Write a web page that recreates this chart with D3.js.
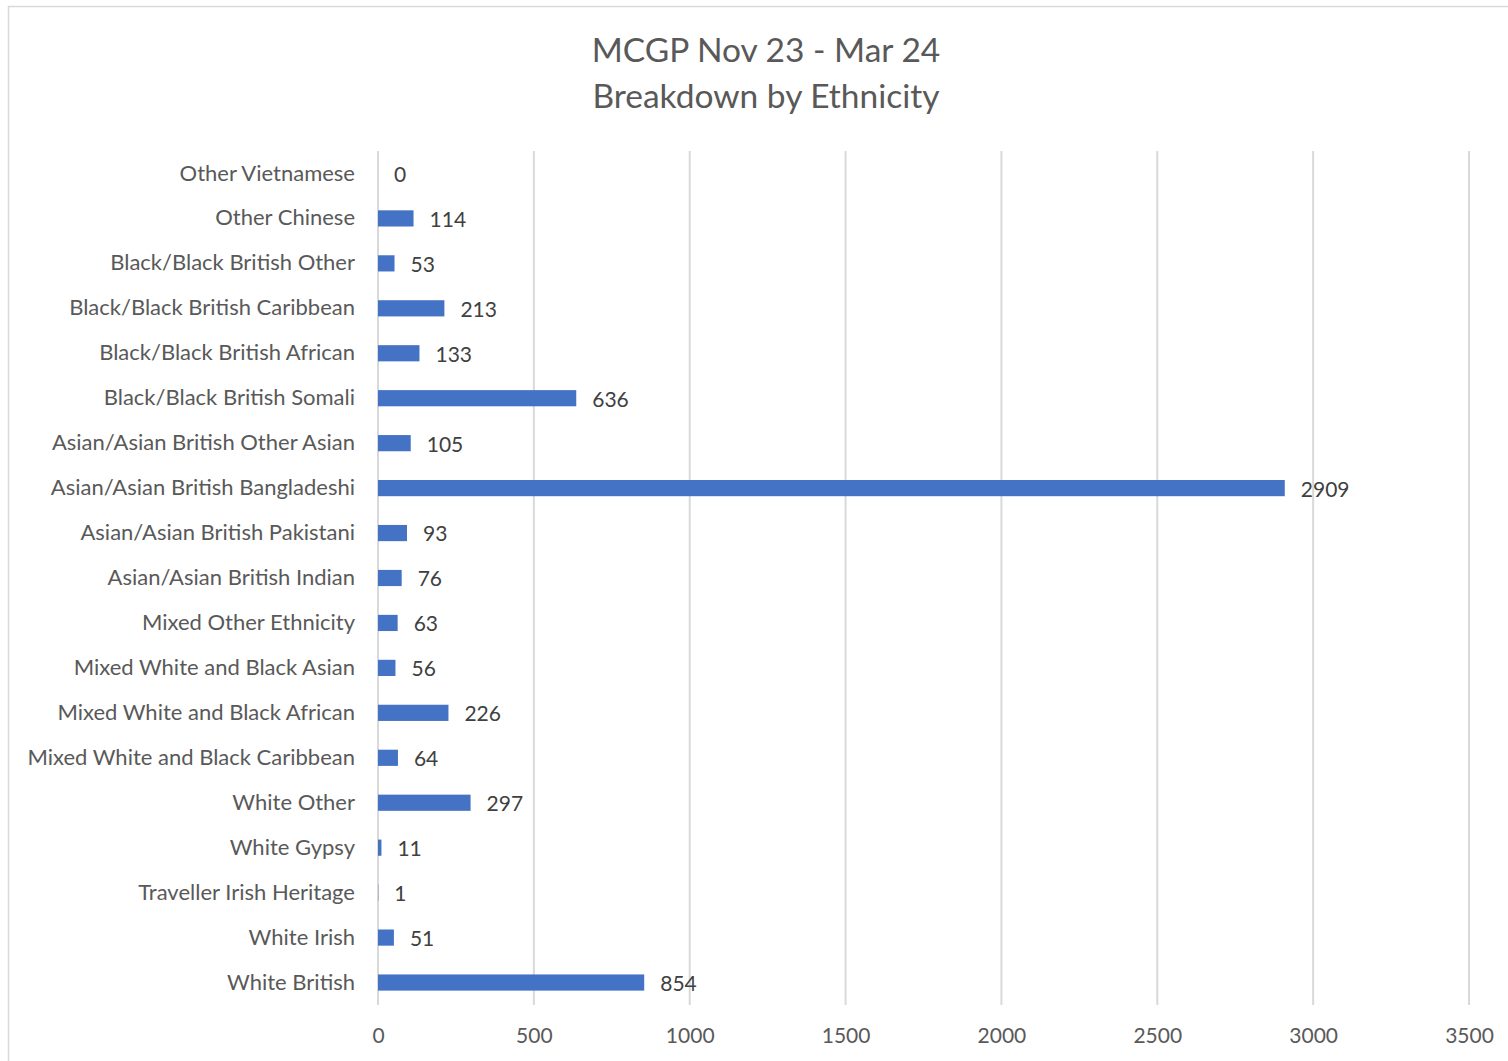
<!DOCTYPE html>
<html>
<head>
<meta charset="utf-8">
<script src="https://cdn.jsdelivr.net/npm/d3@7"></script>
<style>
  body { margin: 0; background: #fff; }
  svg { display: block; font-family: Lato, "Open Sans", sans-serif; }
</style>
</head>
<body>
<div class="chart"></div>
<script>
var width = 1508,
    height = 1061;

// categories top to bottom
var categories = [
    "Other Vietnamese",
    "Other Chinese",
    "Black/Black British Other",
    "Black/Black British Caribbean",
    "Black/Black British African",
    "Black/Black British Somali",
    "Asian/Asian British Other Asian",
    "Asian/Asian British Bangladeshi",
    "Asian/Asian British Pakistani",
    "Asian/Asian British Indian",
    "Mixed Other Ethnicity",
    "Mixed White and Black Asian",
    "Mixed White and Black African",
    "Mixed White and Black Caribbean",
    "White Other",
    "White Gypsy",
    "Traveller Irish Heritage",
    "White Irish",
    "White British"
];

var counts = [0, 114, 53, 213, 133, 636, 105, 2909, 93, 76, 63, 56, 226, 64, 297, 11, 1, 51, 854];

var xTicks = [0, 500, 1000, 1500, 2000, 2500, 3000, 3500];

var titleLines = ["MCGP Nov 23 - Mar 24", "Breakdown by Ethnicity"];

var data = categories.map(function(c, i) {
    return { name: c, value: counts[i] };
});

var margin = { left: 378, right: 39, top: 151, bottom: 56 };

var svg = d3.select('.chart').append("svg")
    .attr("width", width)
    .attr("height", height);

// chart frame
svg.append("rect")
    .attr("x", 8.5)
    .attr("y", 6.5)
    .attr("width", width + 20)
    .attr("height", height + 20)
    .attr("fill", "#fff")
    .attr("stroke", "#d9d9d9")
    .attr("stroke-width", 1.5);

var x = d3.scaleLinear()
    .domain([0, 3500])
    .range([margin.left, width - margin.right]);

var y = d3.scaleBand()
    .domain(categories)
    .range([margin.top, height - margin.bottom])
    .paddingInner(0.64)
    .paddingOuter(0.32);

// title
svg.append("g")
    .selectAll("text")
    .data(titleLines)
    .enter().append("text")
    .attr("x", 766)
    .attr("y", function(d, i) { return 62 + i * 46; })
    .attr("text-anchor", "middle")
    .attr("fill", "#595959")
    .style("font-size", "33.5px")
    .text(function(d) { return d; });

// gridlines
svg.append("g")
    .attr("class", "grid")
    .selectAll("line")
    .data(xTicks)
    .enter().append("line")
    .attr("x1", function(d) { return x(d); })
    .attr("x2", function(d) { return x(d); })
    .attr("y1", margin.top)
    .attr("y2", height - margin.bottom)
    .attr("stroke", "#d9d9d9")
    .attr("stroke-width", 2);

// x axis labels
var xAxis = d3.axisBottom(x)
    .tickValues(xTicks)
    .tickFormat(d3.format("d"))
    .tickSize(0)
    .tickPadding(23);

var gx = svg.append("g")
    .attr("transform", "translate(0," + (height - margin.bottom) + ")")
    .call(xAxis);
gx.select(".domain").remove();
gx.selectAll("text")
    .attr("fill", "#595959")
    .style("font-size", "21px")
    .style("font-family", "Lato, sans-serif");

// category labels
var yAxis = d3.axisLeft(y)
    .tickSize(0)
    .tickPadding(23);

var gy = svg.append("g")
    .attr("transform", "translate(" + margin.left + ",0)")
    .call(yAxis);
gy.select(".domain").remove();
gy.selectAll("text")
    .attr("fill", "#595959")
    .style("font-size", "22px")
    .style("font-family", "Lato, sans-serif");

// bars
svg.append("g")
    .selectAll("rect")
    .data(data)
    .enter().append("rect")
    .attr("x", x(0))
    .attr("y", function(d) { return y(d.name); })
    .attr("width", function(d) { return x(d.value) - x(0); })
    .attr("height", y.bandwidth())
    .attr("fill", "#4472c4");

// value labels
svg.append("g")
    .selectAll("text")
    .data(data)
    .enter().append("text")
    .attr("x", function(d) { return x(d.value) + 16; })
    .attr("y", function(d) { return y(d.name) + y.bandwidth() / 2; })
    .attr("dy", "0.4em")
    .attr("fill", "#404040")
    .style("font-size", "21px")
    .text(function(d) { return d.value; });
</script>
</body>
</html>
